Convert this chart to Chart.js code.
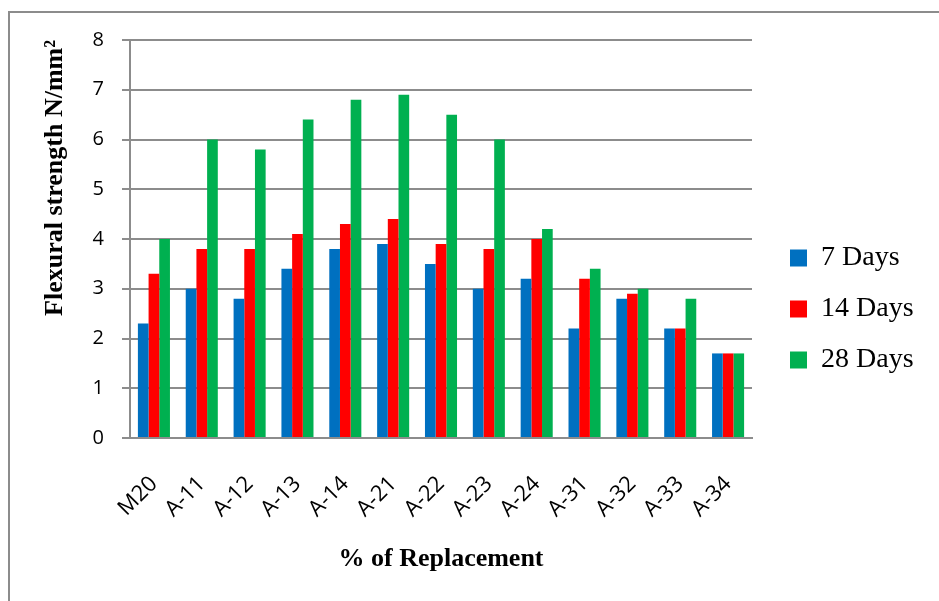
<!DOCTYPE html>
<html>
<head>
<meta charset="utf-8">
<script src="https://cdn.jsdelivr.net/npm/chart.js@4/dist/chart.umd.min.js"></script>
<style>
html,body{margin:0;padding:0;background:#fff;}
#wrap{position:relative;width:939px;height:601px;}
</style>
</head>
<body>
<div id="wrap"><canvas id="c" width="939" height="601"></canvas></div>
<script>
const categories = ["M20","A-11","A-12","A-13","A-14","A-21","A-22","A-23","A-24","A-31","A-32","A-33","A-34"];
const days7  = [2.3,3.0,2.8,3.4,3.8,3.9,3.5,3.0,3.2,2.2,2.8,2.2,1.7];
const days14 = [3.3,3.8,3.8,4.1,4.3,4.4,3.9,3.8,4.0,3.2,2.9,2.2,1.7];
const days28 = [4.0,6.0,5.8,6.4,6.8,6.9,6.5,6.0,4.2,3.4,3.0,2.8,1.7];
const seriesNames = ["7 Days","14 Days","28 Days"];
const colors = ["#0070C0","#FF0000","#00B050"];

const frame = {
  id:'frame',
  beforeDraw(chart){
    const ctx = chart.ctx;
    ctx.save();
    ctx.fillStyle='#fff';
    ctx.fillRect(0,0,chart.width,chart.height);
    ctx.strokeStyle='#8c8c8c';
    ctx.lineWidth=2;
    ctx.beginPath();
    ctx.moveTo(9,601);
    ctx.lineTo(9,12);
    ctx.lineTo(939,12);
    ctx.stroke();
    ctx.restore();
  }
};

const legendPlace = {
  id:'legendPlace',
  beforeUpdate(chart){
    const lg = chart.legend;
    if (lg && !lg._wrappedFit){
      const orig = lg.fit.bind(lg);
      lg.fit = function(){ orig(); this.width = 187; };
      lg._wrappedFit = true;
    }
  },
  afterLayout(chart){
    const lg = chart.legend;
    if (lg){ lg.left += 15; lg.right += 15; }
  }
};

new Chart(document.getElementById('c'), {
  type:'bar',
  data:{
    labels:categories,
    datasets:[
      {label:seriesNames[0],data:days7,backgroundColor:colors[0]},
      {label:seriesNames[1],data:days14,backgroundColor:colors[1]},
      {label:seriesNames[2],data:days28,backgroundColor:colors[2]}
    ]
  },
  options:{
    responsive:false,
    animation:false,
    devicePixelRatio:1,
    layout:{padding:{left:30,top:40,right:0,bottom:23}},
    datasets:{bar:{categoryPercentage:0.67,barPercentage:1}},
    plugins:{
      legend:{
        position:'right',
        labels:{
          font:{family:'"Liberation Serif"',size:28},
          color:'#000',
          boxWidth:17,boxHeight:17,
          padding:23
        }
      },
      tooltip:{enabled:false}
    },
    scales:{
      x:{
        afterFit(scale){ scale.height = 140; },
        grid:{display:false,drawTicks:false},
        border:{color:'#8c8c8c',width:2},
        ticks:{
          color:'#000',
          font:{family:'"Open Sans"',size:22},
          maxRotation:45,minRotation:45,
          padding:33
        },
        title:{
          display:true,text:'% of Replacement',
          color:'#000',
          font:{family:'"Liberation Serif"',size:26,weight:'bold'},
          padding:{top:0,bottom:3}
        }
      },
      y:{
        afterFit(scale){ scale.width = 100; },
        min:0,max:8,
        ticks:{
          stepSize:1,color:'#000',
          font:{family:'"Open Sans"',size:20},
          padding:18
        },
        grid:{color:'#8c8c8c',lineWidth:2,tickLength:8},
        border:{color:'#8c8c8c',width:2},
        title:{
          display:true,text:'Flexural strength N/mm²',
          align:'end',
          color:'#000',
          font:{family:'"Liberation Serif"',size:26,weight:'bold'},
          padding:{top:10,bottom:0}
        }
      }
    }
  },
  plugins:[frame, legendPlace]
});
</script>
</body>
</html>
